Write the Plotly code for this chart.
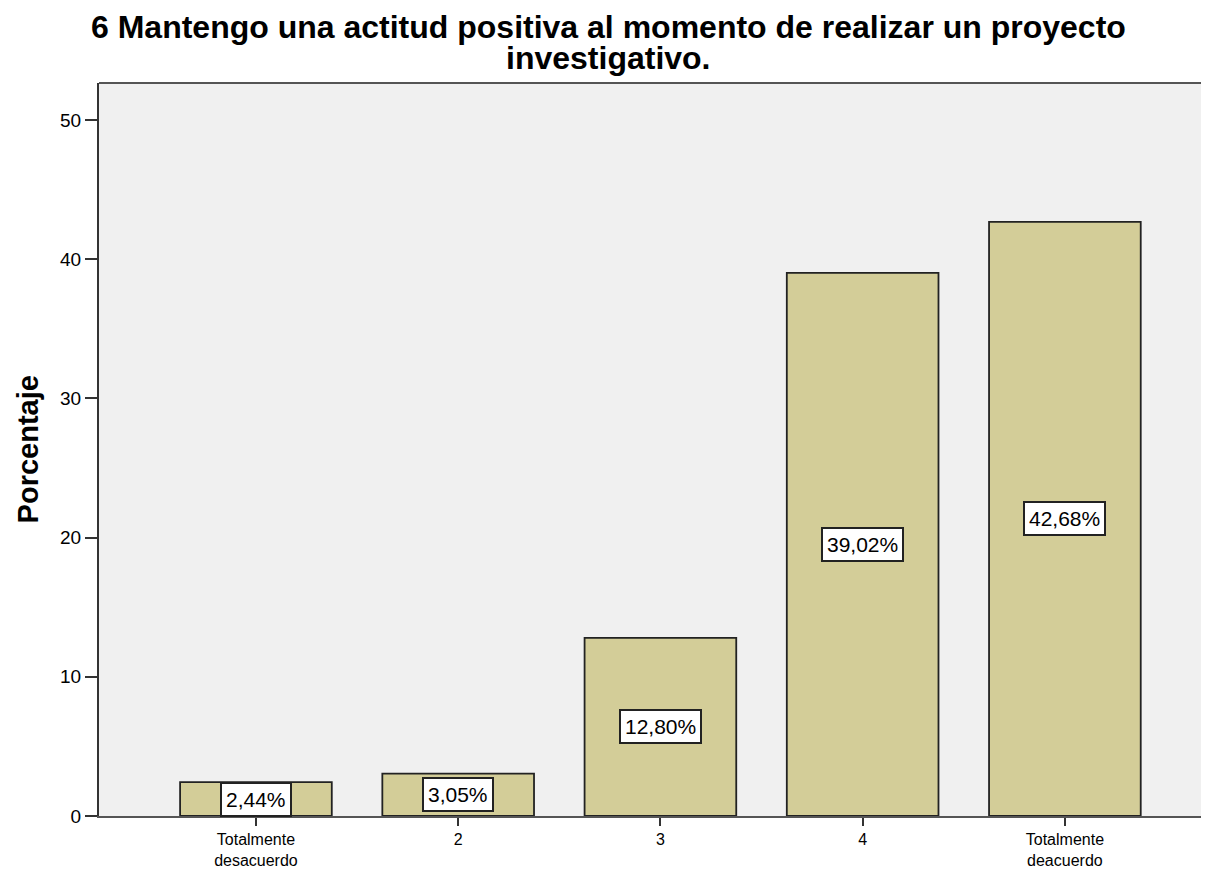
import plotly.graph_objects as go

categories = ["Totalmente<br>desacuerdo", "2", "3", "4", "Totalmente<br>deacuerdo"]
percentages = [2.44, 3.05, 12.80, 39.02, 42.68]
value_labels = ["2,44%", "3,05%", "12,80%", "39,02%", "42,68%"]
y_ticks = [0, 10, 20, 30, 40, 50]
title_lines = ["6 Mantengo una actitud positiva al momento de realizar un proyecto", "investigativo."]
y_title = "Porcentaje"

FONT = "Arial, Liberation Sans, sans-serif"

fig = go.Figure()
fig.add_trace(go.Bar(
    x=list(range(len(categories))),
    y=percentages,
    width=0.75,
    marker=dict(color="#D3CD98", line=dict(color="#222222", width=1.8)),
    hoverinfo="skip",
))

for i, (v, lab) in enumerate(zip(percentages, value_labels)):
    fig.add_annotation(
        x=i, y=v / 2, text=lab, showarrow=False,
        font=dict(family=FONT, size=21, color="black"),
        bgcolor="white", bordercolor="#222222", borderwidth=2, borderpad=4,
    )

# title lines
fig.add_annotation(xref="paper", yref="paper", x=0.462, y=1.077, yanchor="middle",
                   text="<b>" + title_lines[0] + "</b>", showarrow=False,
                   font=dict(family=FONT, size=32, color="black"))
fig.add_annotation(xref="paper", yref="paper", x=0.462, y=1.034, yanchor="middle",
                   text="<b>" + title_lines[1] + "</b>", showarrow=False,
                   font=dict(family=FONT, size=32, color="black"))
# y axis title
fig.add_annotation(xref="paper", yref="paper", x=-0.0645, y=0.5, xanchor="center", yanchor="middle",
                   text="<b>" + y_title + "</b>", textangle=-90, showarrow=False,
                   font=dict(family=FONT, size=29, color="black"))

# top frame line
fig.add_shape(type="line", xref="paper", yref="paper", x0=0, x1=1, y0=1, y1=1,
              line=dict(color="#555555", width=2))

fig.update_layout(
    width=1193, height=861,
    margin=dict(l=91, r=0, t=75, b=53, autoexpand=False),
    paper_bgcolor="white",
    plot_bgcolor="#F0F0F0",
    showlegend=False,
    font=dict(family=FONT, color="black"),
)
fig.update_xaxes(
    automargin=False,
    range=[-0.776, 4.673],
    tickmode="array", tickvals=list(range(len(categories))), ticktext=categories,
    ticks="outside", ticklen=8, tickcolor="#333333", tickwidth=2,
    showline=True, linecolor="#555555", linewidth=2,
    showgrid=False, zeroline=False,
    tickfont=dict(family=FONT, size=16, color="black"),
)
fig.update_yaxes(
    automargin=False,
    range=[0, 52.66],
    tickmode="array", tickvals=y_ticks,
    ticks="outside", ticklen=12, tickcolor="#333333", tickwidth=2,
    showline=True, linecolor="#333333", linewidth=2,
    showgrid=False, zeroline=False,
    tickfont=dict(family=FONT, size=19, color="black"),
)

fig.write_html("out.html")
